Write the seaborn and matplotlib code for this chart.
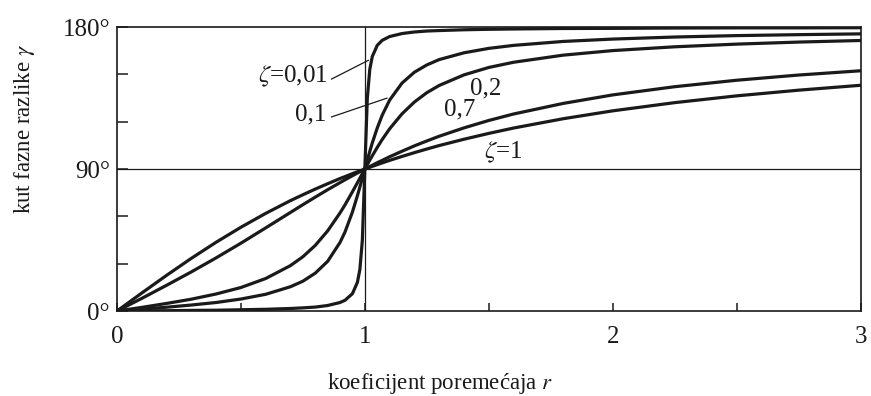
"""
Phase angle vs. frequency ratio for several damping ratios.
Run: python plot.py
"""

import pandas as pd
import matplotlib
matplotlib.use("Agg")
import matplotlib.pyplot as plt
import seaborn as sns

sns.set_theme(style="white")
plt.rcParams['font.family'] = ['Liberation Serif', 'DejaVu Serif']
plt.rcParams['mathtext.fontset'] = 'stix'

# frequency ratio r
r_vals = [0, 0.1, 0.2, 0.3, 0.4, 0.5, 0.6, 0.7, 0.75, 0.8, 0.85, 0.9, 0.92, 0.95, 0.97,
          0.98, 0.99, 1.0, 1.01, 1.02, 1.03, 1.05, 1.07, 1.1, 1.15, 1.2, 1.25, 1.3,
          1.4, 1.5, 1.6, 1.8, 2.0, 2.25, 2.5, 2.75, 3.0]

# phase angle gamma in degrees, one list per damping ratio
gamma_001 = [0, 0.1, 0.2, 0.4, 0.5, 0.8, 1.1, 1.6, 2.0, 2.5, 3.5, 5.4, 6.8, 11.0, 18.2,
             26.3, 44.9, 90, 134.9, 153.2, 161.3, 168.4, 171.6, 174.0, 175.9, 176.9, 177.5,
             177.8, 178.3, 178.6, 178.8, 179.1, 179.2, 179.4, 179.5, 179.5, 179.6]
gamma_01 = [0, 1.2, 2.4, 3.8, 5.4, 7.6, 10.6, 15.4, 18.9, 24.0, 31.5, 43.5, 50.1, 62.8, 73.1,
            78.6, 84.3, 90, 95.7, 101.2, 106.5, 116.0, 124.1, 133.7, 144.5, 151.4, 156.0,
            159.4, 163.7, 166.5, 168.4, 170.9, 172.4, 173.7, 174.6, 175.2, 175.7]
gamma_02 = [0, 2.3, 4.8, 7.5, 10.8, 14.9, 20.6, 28.8, 34.4, 41.6, 50.8, 62.2, 67.3, 75.6, 81.3,
            84.2, 87.1, 90, 92.8, 95.7, 98.4, 103.7, 108.7, 115.5, 125.0, 132.5, 138.4,
            143.0, 149.7, 154.4, 157.7, 162.2, 165.1, 167.5, 169.2, 170.5, 171.5]
gamma_07 = [0, 8.0, 16.3, 24.8, 33.7, 43.0, 52.7, 62.5, 67.4, 72.2, 76.9, 81.4, 83.2, 85.8, 87.5,
            88.3, 89.2, 90, 90.8, 91.6, 92.4, 94.0, 95.5, 97.8, 101.3, 104.7, 107.8,
            110.8, 116.1, 120.8, 124.9, 131.6, 137.0, 142.2, 146.3, 149.6, 152.3]
gamma_1 = [0, 11.4, 22.6, 33.4, 43.6, 53.1, 61.9, 70.0, 73.7, 77.3, 80.7, 84.0, 85.2, 87.1, 88.3,
           88.8, 89.4, 90, 90.6, 91.1, 91.7, 92.8, 93.9, 95.5, 98.0, 100.4, 102.7,
           104.9, 108.9, 112.6, 116.0, 121.9, 126.9, 132.1, 136.4, 140.0, 143.1]

zeta_names = ['0,01', '0,1', '0,2', '0,7', '1']
curves = [gamma_001, gamma_01, gamma_02, gamma_07, gamma_1]

df = pd.concat([pd.DataFrame({'r': r_vals, 'gamma': g, 'zeta': z})
                for z, g in zip(zeta_names, curves)], ignore_index=True)

fig = plt.figure(figsize=(8.71, 3.96), dpi=100)
ax = fig.add_axes([0.1343, 0.2146, 0.8537, 0.7170])

ink = '#1a1a1a'
sns.lineplot(data=df, x='r', y='gamma', hue='zeta', palette=[ink] * 5,
             linewidth=2.3, legend=False, ax=ax, sort=False)

# reference lines at r = 1 and 90 degrees
ax.axhline(90, color=ink, lw=0.9, zorder=1)
ax.axvline(1, color=ink, lw=0.9, zorder=1)

ax.set_xlim(0, 3)
ax.set_ylim(0, 180)
ax.set_xticks([0, 1, 2, 3])
ax.set_xticks([0.5, 1.5, 2.5], minor=True)
ax.set_yticks([0, 30, 60, 90, 120, 150, 180])
ax.set_yticklabels(['0°', '', '', '90°', '', '', '180°'])
ax.set_xticklabels(['0', '1', '2', '3'])

ax.tick_params(axis='x', which='both', direction='in', length=6, width=1.1,
               bottom=True, color=ink, labelsize=18, pad=11, labelcolor=ink)
ax.tick_params(axis='y', which='both', direction='in', length=8, width=1.1,
               left=True, color=ink, labelsize=18, pad=5, labelcolor=ink)

for s in ax.spines.values():
    s.set_color(ink)
    s.set_linewidth(1.2)

ax.set_xlabel('koeficijent poremećaja $r$', fontsize=16.5, color=ink)
ax.set_ylabel('kut fazne razlike $\\gamma$', fontsize=16.5, color=ink)
ax.xaxis.set_label_coords(0.435, -0.213)
ax.yaxis.set_label_coords(-0.108, 0.64)

# curve labels with leader lines
fs = 18
ax.text(0.85, 149, '$\\zeta$=0,01', fontsize=fs, ha='right', va='center', color=ink)
ax.plot([0.865, 1.015], [147, 159], color=ink, lw=0.9)
ax.text(0.845, 124.5, '0,1', fontsize=fs, ha='right', va='center', color=ink)
ax.plot([0.865, 1.09], [123, 135], color=ink, lw=0.9)
ax.text(1.425, 141, '0,2', fontsize=fs, ha='left', va='center', color=ink)
ax.text(1.32, 128, '0,7', fontsize=fs, ha='left', va='center', color=ink)
ax.text(1.48, 100.5, '$\\zeta$=1', fontsize=fs, ha='left', va='center', color=ink)

fig.savefig('out.png', dpi=100)
plt.close(fig)
